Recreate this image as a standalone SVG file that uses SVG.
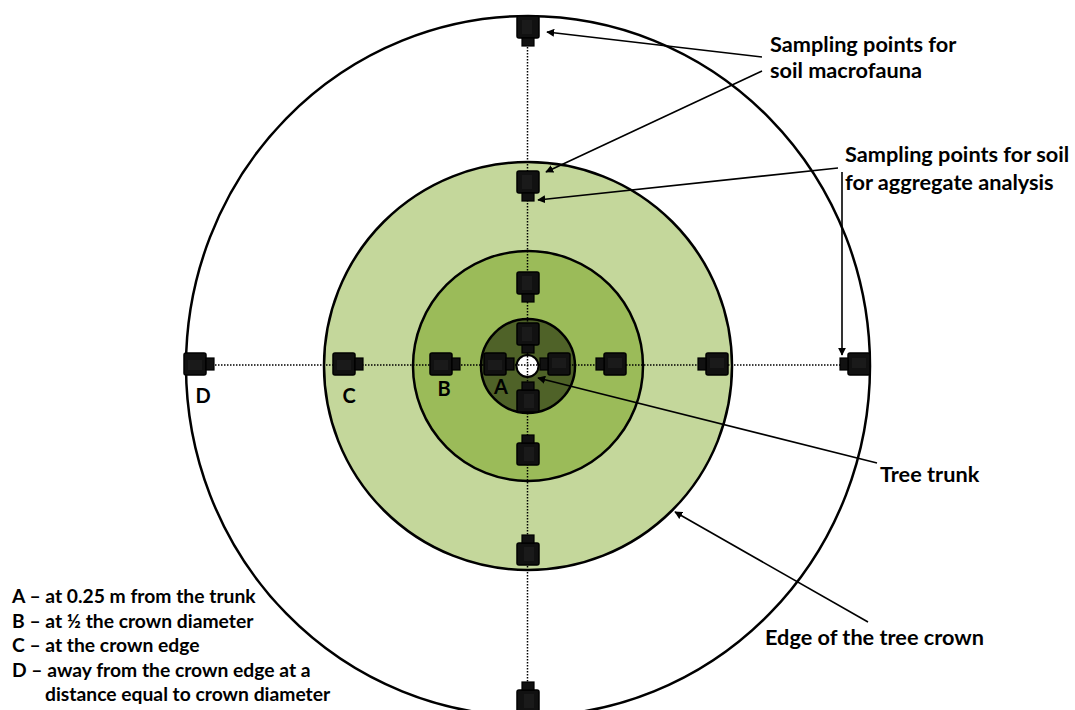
<svg xmlns="http://www.w3.org/2000/svg" width="1075" height="710" viewBox="0 0 1075 710">
<style>
.lbl{font-family:Lato,"Open Sans","Liberation Sans",sans-serif;font-weight:bold;font-size:21.7px;fill:#000}
.leg{font-family:Lato,"Open Sans","Liberation Sans",sans-serif;font-weight:bold;font-size:19.3px;fill:#000}
.let{font-family:Lato,"Open Sans","Liberation Sans",sans-serif;font-weight:bold;font-size:20px;fill:#000;text-anchor:middle}
.ring{stroke:#000;stroke-width:2.5}
.dot{stroke:#000;stroke-width:1.5;stroke-dasharray:1.5 1.5;fill:none}
.arr{stroke:#000;stroke-width:1.6;fill:none;marker-end:url(#ah)}
</style>
<defs>
<marker id="ah" viewBox="0 0 10 10" refX="9" refY="5" markerWidth="8" markerHeight="8" markerUnits="userSpaceOnUse" orient="auto">
<path d="M0,0 L10,5 L0,10 z" fill="#000"/>
</marker>
<g id="pt">
<rect x="-11" y="-11" width="22" height="22" rx="2" fill="#111" stroke="#000" stroke-width="1.5"/>
<rect x="-6" y="-7" width="10" height="14" fill="#1a1a1a"/>
<rect x="-6" y="11" width="12" height="8" fill="#111" stroke="#000" stroke-width="1.2"/>
</g>
</defs>
<rect width="1075" height="710" fill="#fff"/>
<g id="rings">
<ellipse id="outer" class="ring" cx="528" cy="366" rx="342" ry="350" fill="#fff"/>
<circle id="crown-edge" class="ring" cx="528" cy="366" r="204" fill="#c4d79b"/>
<circle id="half-crown" class="ring" cx="528" cy="366" r="115" fill="#9bbb59"/>
<circle id="near-trunk" class="ring" cx="528" cy="366" r="47" fill="#4f6228"/>
<circle id="trunk" cx="527.5" cy="366" r="11" fill="#fff" stroke="#000" stroke-width="2"/>
</g>
<g id="axes">
<line class="dot" x1="200" y1="365" x2="856" y2="365"/>
<line class="dot" x1="527.5" y1="35" x2="527.5" y2="695"/>
</g>
<g id="points">
<use href="#pt" transform="translate(528,27)"/>
<use href="#pt" transform="translate(528,182)"/>
<use href="#pt" transform="translate(528,283)"/>
<use href="#pt" transform="translate(528,334)"/>
<use href="#pt" transform="translate(528,401) rotate(180)"/>
<use href="#pt" transform="translate(528,454) rotate(180)"/>
<use href="#pt" transform="translate(528,554) rotate(180)"/>
<use href="#pt" transform="translate(528,701) rotate(180)"/>
<use href="#pt" transform="translate(195,364) rotate(-90)"/>
<use href="#pt" transform="translate(344,364) rotate(-90)"/>
<use href="#pt" transform="translate(441,364) rotate(-90)"/>
<use href="#pt" transform="translate(495,364) rotate(-90)"/>
<use href="#pt" transform="translate(559,364) rotate(90)"/>
<use href="#pt" transform="translate(615,364) rotate(90)"/>
<use href="#pt" transform="translate(717,364) rotate(90)"/>
<use href="#pt" transform="translate(859,364) rotate(90)"/>
</g>
<g id="connectors">
<line class="arr" x1="762" y1="57" x2="547" y2="32"/>
<line class="arr" x1="762" y1="71" x2="546" y2="172"/>
<line class="arr" x1="838" y1="168" x2="538" y2="200"/>
<line class="arr" x1="842" y1="172" x2="842" y2="355"/>
<line class="arr" x1="877" y1="463" x2="538" y2="378"/>
<line class="arr" x1="868" y1="622" x2="675" y2="512"/>
</g>
<g id="letters">
<text class="let" x="203" y="403">D</text>
<text class="let" x="349" y="403">C</text>
<text class="let" x="444" y="396">B</text>
<text class="let" x="501" y="394">A</text>
</g>
<g id="labels">
<text class="lbl" x="770" y="52">Sampling points for</text>
<text class="lbl" x="770" y="78">soil macrofauna</text>
<text class="lbl" x="845" y="162">Sampling points for soil</text>
<text class="lbl" x="845" y="190">for aggregate analysis</text>
<text class="lbl" x="880" y="482">Tree trunk</text>
<text class="lbl" x="765" y="645">Edge of the tree crown</text>
</g>
<g id="legend">
<text class="leg" x="12" y="603">A – at 0.25 m from the trunk</text>
<text class="leg" x="12" y="628">B – at ½ the crown diameter</text>
<text class="leg" x="12" y="652">C – at the crown edge</text>
<text class="leg" x="12" y="677">D – away from the crown edge at a</text>
<text class="leg" x="45" y="701">distance equal to crown diameter</text>
</g>
</svg>
